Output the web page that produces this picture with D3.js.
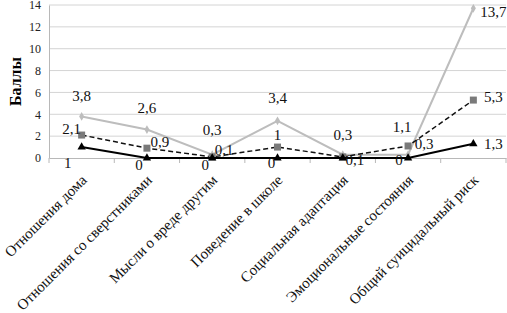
<!DOCTYPE html>
<html lang="ru">
<head>
<meta charset="UTF-8">
<title>Баллы</title>
<script src="https://d3js.org/d3.v7.min.js"></script>
<style>
  body { margin: 0; background: #fff; }
  text { font-family: "Liberation Serif", "Times New Roman", serif; }
</style>
</head>
<body>
<svg id="chart" width="507" height="313"></svg>
<script>
// categories and series
const categories = [
    "Отношения дома",
    "Отношения со сверстниками",
    "Мысли о вреде другим",
    "Поведение в школе",
    "Социальная адаптация",
    "Эмоциональные состояния",
    "Общий суицидальный риск"
];
const seriesGrey = [3.8, 2.6, 0.3, 3.4, 0.3, 0.3, 13.7];
const seriesDashed = [2.1, 0.9, 0.1, 1, 0.1, 1.1, 5.3];
const seriesBlack = [1, 0, 0, 0, 0, 0, 1.3];
const yTicks = [0, 2, 4, 6, 8, 10, 12, 14];

// label offsets (dx, dy) relative to the point, null = hidden
const greyLabelPos = [[0, -21], [0, -22], [0, -25], [0, -23], [0, -20], [16, -11], [20, 3]];
const dashedLabelPos = [[-10, -6], [13, -6], [12, -7], [0, -12], [12, 3], [-6, -19], [20, -3]];
const blackLabelPos = [[-14, 16], [-8, 7], [-7, 7], [-6, 5], null, [-9, 2], [20, 0]];

const svg = d3.select("#chart");
const margin = { left: 49, right: 1 };
const width = 507;
const x = d3.scaleBand().domain(categories).range([margin.left, width - margin.right]);
const y = d3.scaleLinear().domain([0, 14]).range([158, 5]);

// gridlines
svg.append("g")
    .selectAll("line")
    .data(yTicks.filter(d => d > 0))
    .enter().append("line")
    .attr("x1", margin.left).attr("x2", width - margin.right)
    .attr("y1", d => y(d)).attr("y2", d => y(d))
    .attr("stroke", "#d4d4d4").attr("stroke-width", 1);

// y axis
const yAxis = svg.append("g")
    .attr("transform", `translate(${margin.left},0)`)
    .call(d3.axisLeft(y).tickValues(yTicks).tickSize(0).tickPadding(8));
yAxis.select(".domain").attr("stroke", "#b8b8b8");
yAxis.selectAll("text").style("font-size", "12px").style("font-family", "Liberation Serif").attr("fill", "#222");

// x axis
const xAxis = svg.append("g")
    .attr("transform", `translate(0,${y(0)})`)
    .call(d3.axisBottom(x).tickSize(0).tickFormat(""));
xAxis.select(".domain").attr("stroke", "#b8b8b8");
svg.append("g")
    .selectAll("line")
    .data(categories.map((c, i) => i).concat([categories.length]))
    .enter().append("line")
    .attr("x1", i => margin.left + i * x.step())
    .attr("x2", i => margin.left + i * x.step())
    .attr("y1", y(0)).attr("y2", y(0) + 5)
    .attr("stroke", "#b8b8b8");

// category labels
svg.append("g")
    .selectAll("text")
    .data(categories)
    .enter().append("text")
    .attr("transform", d => `translate(${x(d) + x.bandwidth() / 2 + 6},${y(0) + 23}) rotate(-45)`)
    .attr("text-anchor", "end")
    .style("font-size", "15px")
    .attr("fill", "#111")
    .text(d => d);

// y axis title
svg.append("text")
    .attr("transform", `translate(21,${y(7)}) rotate(-90)`)
    .attr("text-anchor", "middle")
    .style("font-size", "16px")
    .style("font-weight", "bold")
    .text("Баллы");

const cx = (d, i) => x(categories[i]) + x.bandwidth() / 2;
const line = d3.line().x(cx).y(d => y(d));

// grey series
svg.append("path").datum(seriesGrey)
    .attr("d", line).attr("fill", "none")
    .attr("stroke", "#bdbdbd").attr("stroke-width", 2);
svg.append("g").selectAll("path").data(seriesGrey).enter().append("path")
    .attr("d", d3.symbol().type(d3.symbolDiamond).size(22))
    .attr("transform", (d, i) => `translate(${cx(d, i)},${y(d)})`)
    .attr("fill", "#bdbdbd");

// dashed series
svg.append("path").datum(seriesDashed)
    .attr("d", line).attr("fill", "none")
    .attr("stroke", "#111").attr("stroke-width", 1.5)
    .attr("stroke-dasharray", "5,3");
svg.append("g").selectAll("rect").data(seriesDashed).enter().append("rect")
    .attr("x", (d, i) => cx(d, i) - 3.5).attr("y", d => y(d) - 3.5)
    .attr("width", 7).attr("height", 7)
    .attr("fill", "#7a7a7a");

// black series
svg.append("path").datum(seriesBlack)
    .attr("d", line).attr("fill", "none")
    .attr("stroke", "#000").attr("stroke-width", 2);
svg.append("g").selectAll("path").data(seriesBlack).enter().append("path")
    .attr("d", d3.symbol().type(d3.symbolTriangle).size(30))
    .attr("transform", (d, i) => `translate(${cx(d, i)},${y(d)})`)
    .attr("fill", "#000");

// data labels
const fmt = v => String(v).replace(".", ",");
function labels(values, pos) {
    svg.append("g").selectAll("text")
        .data(values.map((v, i) => ({ v, i, p: pos[i] })).filter(d => d.p))
        .enter().append("text")
        .attr("x", d => cx(d.v, d.i) + d.p[0])
        .attr("y", d => y(d.v) + d.p[1])
        .attr("dy", "0.35em")
        .attr("text-anchor", "middle")
        .style("font-size", "15px")
        .attr("fill", "#111")
        .text(d => fmt(d.v));
}
labels(seriesGrey, greyLabelPos);
labels(seriesDashed, dashedLabelPos);
labels(seriesBlack, blackLabelPos);
</script>
</body>
</html>
